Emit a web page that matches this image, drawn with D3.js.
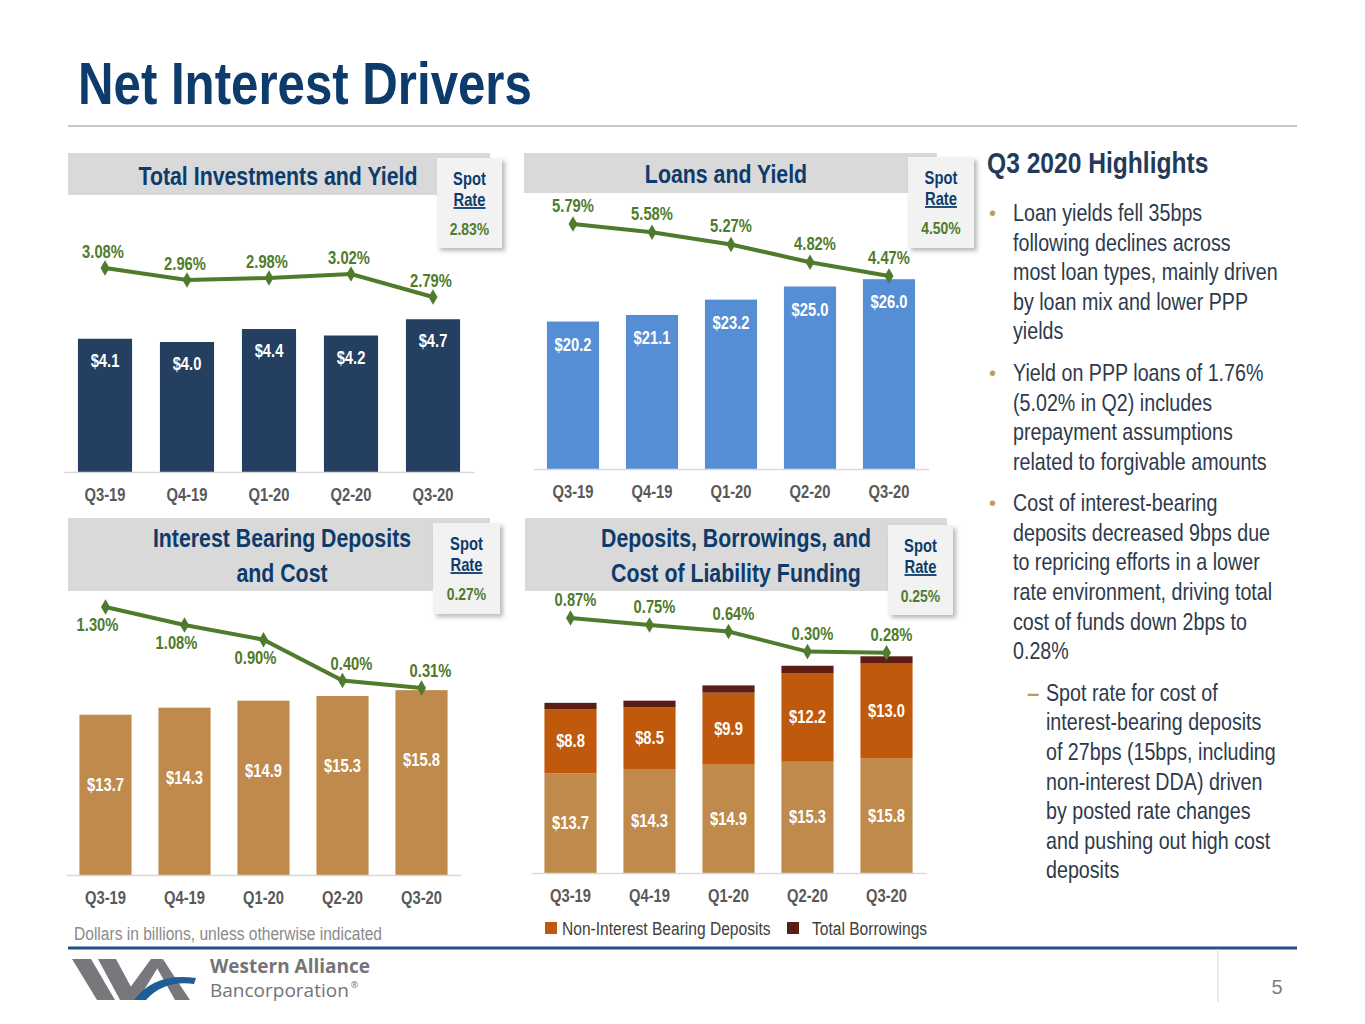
<!DOCTYPE html>
<html>
<head>
<meta charset="utf-8">
<script src="https://cdn.jsdelivr.net/npm/d3@7"></script>
<style>
  body { margin: 0; background: #fff; }
  svg { display: block; }
</style>
</head>
<body>
<div id="slide"></div>
<script>
// chart values
var quarters = ["Q3-19", "Q4-19", "Q1-20", "Q2-20", "Q3-20"];
var investments = [4.1, 4.0, 4.4, 4.2, 4.7];
var investmentYield = [3.08, 2.96, 2.98, 3.02, 2.79];
var loans = [20.2, 21.1, 23.2, 25.0, 26.0];
var loanYield = [5.79, 5.58, 5.27, 4.82, 4.47];
var ibDeposits = [13.7, 14.3, 14.9, 15.3, 15.8];
var ibDepositCost = [1.30, 1.08, 0.90, 0.40, 0.31];
var nibDeposits = [8.8, 8.5, 9.9, 12.2, 13.0];
var borrowings = [0.9, 0.9, 1.0, 1.0, 1.0];
var liabilityCost = [0.87, 0.75, 0.64, 0.30, 0.28];
var spotRates = ["2.83%", "4.50%", "0.27%", "0.25%"];
var legendLabels = ["Non-Interest Bearing Deposits", "Total Borrowings"];

var highlights = [
  {lvl: 0, lines: ["Loan yields fell 35bps", "following declines across", "most loan types, mainly driven", "by loan mix and lower PPP", "yields"]},
  {lvl: 0, lines: ["Yield on PPP loans of 1.76%", "(5.02% in Q2) includes", "prepayment assumptions", "related to forgivable amounts"]},
  {lvl: 0, lines: ["Cost of interest-bearing", "deposits decreased 9bps due", "to repricing efforts in a lower", "rate environment, driving total", "cost of funds down 2bps to", "0.28%"]},
  {lvl: 1, lines: ["Spot rate for cost of", "interest-bearing deposits", "of 27bps (15bps, including", "non-interest DDA) driven", "by posted rate changes", "and pushing out high cost", "deposits"]}
];

// colours
var NAVY = "#0d3b6b";
var GREEN = "#4f7b2c";
var GREY_TXT = "#595959";

// narrow font if it is there, otherwise squeeze the regular one
function hasFont(name) {
  var c = document.createElement("canvas").getContext("2d");
  var s = "Net Interest Drivers 0123";
  c.font = "40px monospace";
  var w0 = c.measureText(s).width;
  c.font = "40px '" + name + "', monospace";
  return c.measureText(s).width !== w0;
}
var narrow = hasFont("Liberation Sans Narrow");
var FONT = narrow ? "'Liberation Sans Narrow', 'Arial Narrow', sans-serif" : "'Liberation Sans', Arial, sans-serif";
var SX = narrow ? 1 : 0.82;

var svg = d3.select("#slide").append("svg")
  .attr("width", 1365)
  .attr("height", 1024);

var defs = svg.append("defs");
defs.append("filter").attr("id", "shadow")
  .attr("x", "-20%").attr("y", "-20%").attr("width", "150%").attr("height", "150%")
  .append("feDropShadow")
  .attr("dx", 3).attr("dy", 3).attr("stdDeviation", 2)
  .attr("flood-color", "#8c8c8c").attr("flood-opacity", 0.6);

function label(g, x, y, s, o) {
  o = o || {};
  var t = g.append("text")
    .attr("transform", "translate(" + x + "," + y + ") scale(" + (o.sx || SX) + ",1)")
    .attr("text-anchor", o.anchor || "middle")
    .style("font-family", o.family || FONT)
    .style("font-size", (o.size || 18) + "px")
    .style("font-weight", o.bold === false ? "normal" : "bold")
    .attr("fill", o.fill || GREY_TXT)
    .text(s);
  if (o.underline) t.style("text-decoration", "underline");
  return t;
}

// ---- slide title
label(svg, 78, 104, "Net Interest Drivers", {anchor: "start", size: 60, fill: NAVY});
svg.append("line").attr("x1", 68).attr("x2", 1297).attr("y1", 126).attr("y2", 126)
  .attr("stroke", "#c8c8c8").attr("stroke-width", 2);

// ---- one panel: header, spot box, bars, yield line
function drawPanel(p) {
  var g = svg.append("g");

  g.append("rect")
    .attr("x", p.head[0]).attr("y", p.head[1])
    .attr("width", p.head[2]).attr("height", p.head[3])
    .attr("fill", "#d9d9d9");
  p.title.forEach(function(t, i) {
    label(g, p.titleX, p.titleY + i * 35, t, {size: 26, fill: NAVY});
  });

  var b = p.spot;
  g.append("rect")
    .attr("x", b[0]).attr("y", b[1]).attr("width", b[2]).attr("height", b[3])
    .attr("fill", "#f2f2f2").attr("filter", "url(#shadow)");
  label(g, b[0] + b[2] / 2, b[1] + 27, "Spot", {size: 18, fill: NAVY});
  label(g, b[0] + b[2] / 2, b[1] + 48, "Rate", {size: 18, fill: NAVY, underline: true});
  label(g, b[0] + b[2] / 2, b[1] + 77, p.spotRate, {size: 17, fill: GREEN});

  var x = d3.scaleBand().domain(quarters).range(p.xRange)
    .paddingInner(0.34).paddingOuter(0.17);
  var y = d3.scaleLinear().domain(p.yDomain).range([p.base, p.top]);
  var y2 = d3.scaleLinear().domain(p.y2Domain).range(p.y2Range);

  var keys = p.series.map(function(s, k) { return "s" + k; });
  var rows = quarters.map(function(q, i) {
    var r = {q: q};
    p.series.forEach(function(s, k) { r["s" + k] = s[i]; });
    return r;
  });
  var stacked = d3.stack().keys(keys)(rows);

  stacked.forEach(function(layer, k) {
    g.append("g").selectAll("rect")
      .data(layer)
      .enter().append("rect")
      .attr("x", function(d) { return x(d.data.q); })
      .attr("width", x.bandwidth())
      .attr("y", function(d) { return y(d[1]); })
      .attr("height", function(d) { return y(d[0]) - y(d[1]); })
      .attr("fill", p.colors[k]);
  });

  // bar value labels
  stacked.forEach(function(layer, k) {
    if (k >= p.labelled) return;
    layer.forEach(function(d) {
      var ly = p.stackLabels ? (y(d[0]) + y(d[1])) / 2 + 6 : y(d[1]) + p.barLabelOffset;
      label(g, x(d.data.q) + x.bandwidth() / 2, ly, "$" + (d[1] - d[0]).toFixed(1), {size: 18, fill: "#fff"});
    });
  });

  // category axis
  var ax = g.append("g")
    .attr("transform", "translate(0," + p.base + ")")
    .call(d3.axisBottom(x).tickSize(0).tickPadding(16));
  ax.select(".domain").attr("stroke", "#d9d9d9").attr("stroke-width", 1.5);
  ax.selectAll("text")
    .attr("transform", "scale(" + SX + ",1)")
    .style("font-family", FONT).style("font-size", "18px").style("font-weight", "bold")
    .attr("fill", GREY_TXT);

  // yield line
  var cx = function(i) { return x(quarters[i]) + x.bandwidth() / 2; };
  var line = d3.line()
    .x(function(d, i) { return cx(i); })
    .y(function(d) { return y2(d); });
  g.append("path").datum(p.line)
    .attr("d", line)
    .attr("fill", "none").attr("stroke", GREEN).attr("stroke-width", 4);
  g.append("g").selectAll("path")
    .data(p.line)
    .enter().append("path")
    .attr("d", d3.symbol(d3.symbolDiamond, 70))
    .attr("transform", function(d, i) { return "translate(" + cx(i) + "," + y2(d) + ")"; })
    .attr("fill", GREEN);
  p.line.forEach(function(v, i) {
    var off = p.lineLabel(i);
    label(g, cx(i) + off[0], y2(v) + off[1], v.toFixed(2) + "%", {size: 18, fill: GREEN});
  });
}

drawPanel({
  head: [68, 153, 422, 42], title: ["Total Investments and Yield"], titleX: 278, titleY: 185,
  spot: [437, 158, 65, 90], spotRate: spotRates[0],
  xRange: [64, 474], base: 472, top: 277, yDomain: [0, 6],
  y2Domain: [2.5, 3.5], y2Range: [326, 226],
  series: [investments], colors: ["#253f60"], labelled: 1, barLabelOffset: 28,
  line: investmentYield,
  lineLabel: function(i) { return [-2, -10]; }
});

drawPanel({
  head: [524, 153, 413, 40], title: ["Loans and Yield"], titleX: 726, titleY: 183,
  spot: [908, 157, 66, 91], spotRate: spotRates[1],
  xRange: [533.5, 928.5], base: 469, top: 250, yDomain: [0, 30],
  y2Domain: [4, 6], y2Range: [294.5, 215.7],
  series: [loans], colors: ["#568ed6"], labelled: 1, barLabelOffset: 29,
  line: loanYield,
  lineLabel: function(i) { return [i == 3 ? 5 : 0, -12]; }
});

drawPanel({
  head: [68, 518, 422, 73], title: ["Interest Bearing Deposits", "and Cost"], titleX: 282, titleY: 547,
  spot: [433, 523, 67, 91], spotRate: spotRates[2],
  xRange: [66, 461], base: 875, top: 641, yDomain: [0, 20],
  y2Domain: [0, 1.5], y2Range: [713.3, 590.6],
  series: [ibDeposits], colors: ["#bf8a4b"], labelled: 1, barLabelOffset: 76,
  line: ibDepositCost,
  lineLabel: function(i) { return i < 3 ? [-8, 24] : [9, -11]; }
});

drawPanel({
  head: [525, 518, 422, 73], title: ["Deposits, Borrowings, and", "Cost of Liability Funding"], titleX: 736, titleY: 547,
  spot: [888, 525, 65, 90], spotRate: spotRates[3],
  xRange: [531, 926], base: 873, top: 618.5, yDomain: [0, 35],
  y2Domain: [0, 1], y2Range: [669.3, 610.3],
  series: [ibDeposits, nibDeposits, borrowings], colors: ["#bf8a4b", "#c0590c", "#5b1d14"],
  labelled: 2, stackLabels: true,
  line: liabilityCost,
  lineLabel: function(i) { return [5, -12]; }
});

// legend under the stacked chart
var lg = svg.append("g");
[["#c0590c", 545, 562], ["#5b1d14", 787, 812]].forEach(function(it, i) {
  lg.append("rect").attr("x", it[1]).attr("y", 922).attr("width", 12).attr("height", 12).attr("fill", it[0]);
  label(lg, it[2], 935, legendLabels[i], {anchor: "start", size: 19, bold: false, fill: "#404040"});
});

label(svg, 74, 940, "Dollars in billions, unless otherwise indicated", {anchor: "start", size: 19, bold: false, fill: "#8a8a8a"});

// ---- highlights column
var hl = svg.append("g");
label(hl, 987, 173, "Q3 2020 Highlights", {anchor: "start", size: 30, fill: "#233a5a"});
var ly = 221;
highlights.forEach(function(h, k) {
  if (k > 0) ly += 41.5 - 29.6;
  var tx = h.lvl ? 1046 : 1013;
  label(hl, h.lvl ? 1027 : 989, ly - (h.lvl ? 0 : 1), h.lvl ? "\u2013" : "\u2022",
    {anchor: "start", size: h.lvl ? 22 : 20, bold: h.lvl ? true : false, fill: "#c49a52", sx: 1});
  h.lines.forEach(function(s) {
    label(hl, tx, ly, s, {anchor: "start", size: 24, bold: false, fill: "#2e3a4c"});
    ly += 29.6;
  });
});

// ---- footer
svg.append("line").attr("x1", 68).attr("x2", 1297).attr("y1", 948).attr("y2", 948)
  .attr("stroke", "#24508a").attr("stroke-width", 3);
svg.append("line").attr("x1", 1218).attr("x2", 1218).attr("y1", 949).attr("y2", 1002)
  .attr("stroke", "#d8d8d0").attr("stroke-width", 1);
label(svg, 1277, 994, "5", {size: 20, bold: false, fill: "#7f7f7f", family: "'Liberation Sans', Arial, sans-serif", sx: 1});

// logo mark
var logo = svg.append("g");
logo.append("path").attr("d", "M72,959 L91,959 L115,1000 L97,1000 Z").attr("fill", "#77787b");
logo.append("path").attr("d", "M98,959 L116,959 L138,1000 L120,1000 Z").attr("fill", "#77787b");
logo.append("path").attr("d", "M151,959 L163,959 L138,1000 L121,1000 Z").attr("fill", "#77787b");
logo.append("path").attr("d", "M163,959 L170,970 L190,1000 L175,1000 L157,968 Z").attr("fill", "#77787b");
logo.append("path").attr("d", "M134,1000 Q155,972 196,978 L194,984 Q164,980 146,1000 Z").attr("fill", "#1e5d97");
var bancorp = label(logo, 210, 997, "Bancorporation", {anchor: "start", size: 19, bold: false, fill: "#737477", family: "'Open Sans', sans-serif", sx: 1});
label(logo, 210, 973, "Western Alliance", {anchor: "start", size: 19, fill: "#737477", family: "'Open Sans', sans-serif", sx: 1});
label(logo, 210 + bancorp.node().getComputedTextLength() + 2, 988, "\u00ae", {anchor: "start", size: 9, bold: false, fill: "#737477", family: "'Open Sans', sans-serif", sx: 1});
</script>
</body>
</html>
